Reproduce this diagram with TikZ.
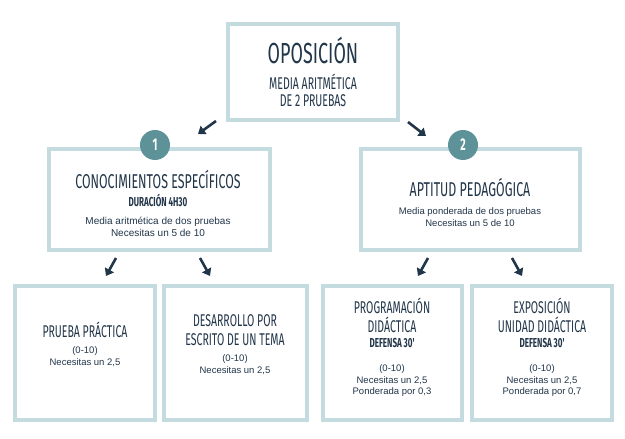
\documentclass[tikz,border=0pt]{standalone}
\usepackage{fontspec}
\setmainfont{Liberation Sans}
\newfontfamily\cond[FakeStretch=0.62]{Fira Sans}
\usetikzlibrary{arrows.meta}
\definecolor{bord}{HTML}{C4DCE0}
\definecolor{ink}{HTML}{22364A}
\definecolor{teal}{HTML}{5E9299}
\begin{document}
\begin{tikzpicture}[x=1pt,y=-1pt,
  box/.style={draw=bord,line width=3.5pt,fill=white},
  num/.style={circle,fill=teal,text=white,minimum size=30pt,inner sep=0pt,font=\cond\bfseries\fontsize{17}{17}\selectfont},
  arr/.style={draw=ink,line width=2.6pt,-{Triangle[length=7pt,width=10pt]}},
  t/.style={text=ink,align=center,inner sep=0pt}]
\useasboundingbox (0,0) rectangle (625,439);
\fill[white] (0,0) rectangle (625,439);
\draw[box] (228,24) rectangle (398,120);
\node[t,font=\cond\fontsize{29}{29}\selectfont] (op) at (313,50) {OPOSICIÓN};
\node[t,font=\cond\fontsize{17}{17}\selectfont] (opm) at (313,90) {MEDIA ARITMÉTICA\\DE 2 PRUEBAS};
\draw[box] (49,149) rectangle (270,250);
\draw[box] (361,149) rectangle (580,250);
\node[num] (n1) at (155,145) {1};
\node[num] (n2) at (463,145) {2};
\node[t,font=\cond\fontsize{20}{20}\selectfont] (ce) at (158,180) {CONOCIMIENTOS ESPECÍFICOS};
\node[t,font=\cond\bfseries\fontsize{13}{13}\selectfont] (du) at (158,200) {DURACIÓN 4H30};
\node[t,font=\fontsize{10}{12}\selectfont] (cm) at (158,227) {Media aritmética de dos pruebas\\Necesitas un 5 de 10};
\node[t,font=\cond\fontsize{20}{20}\selectfont] (ap) at (470,188) {APTITUD PEDAGÓGICA};
\node[t,font=\fontsize{9.5}{12}\selectfont] (am) at (470,217) {Media ponderada de dos pruebas\\Necesitas un 5 de 10};
\coordinate (a1s) at (216,121); \coordinate (a1e) at (198,134);
\coordinate (a2s) at (408,122); \coordinate (a2e) at (426,136);
\draw[arr] (a1s)--(a1e); \draw[arr] (a2s)--(a2e);
\coordinate (b1s) at (116,258); \coordinate (b1e) at (106,276);
\coordinate (b2s) at (200,258); \coordinate (b2e) at (210,276);
\coordinate (b3s) at (428,258); \coordinate (b3e) at (418,276);
\coordinate (b4s) at (512,258); \coordinate (b4e) at (522,276);
\foreach \s/\e in {b1s/b1e,b2s/b2e,b3s/b3e,b4s/b4e} \draw[arr] (\s)--(\e);
\draw[box] (15,286) rectangle (155,420);
\draw[box] (164,286) rectangle (307,420);
\draw[box] (323,286) rectangle (462,420);
\draw[box] (472,286) rectangle (612,420);
\node[t,font=\cond\fontsize{17}{17}\selectfont] (p1) at (85,330) {PRUEBA PRÁCTICA};
\node[t,font=\fontsize{9.5}{12}\selectfont] (p1t) at (85,357) {(0-10)\\Necesitas un 2,5};
\node[t,font=\cond\fontsize{17}{19}\selectfont] (p2) at (235,330) {DESARROLLO POR\\ESCRITO DE UN TEMA};
\node[t,font=\fontsize{9.5}{12}\selectfont] (p2t) at (235,365) {(0-10)\\Necesitas un 2,5};
\node[t,font=\cond\fontsize{17}{19}\selectfont] (p3) at (392,315) {PROGRAMACIÓN\\DIDÁCTICA};
\node[t,font=\cond\bfseries\fontsize{13}{13}\selectfont] (p3d) at (392,343) {DEFENSA 30'};
\node[t,font=\fontsize{9.5}{11.5}\selectfont] (p3t) at (392,381) {(0-10)\\Necesitas un 2,5\\Ponderada por 0,3};
\node[t,font=\cond\fontsize{17}{19}\selectfont] (p4) at (542,315) {EXPOSICIÓN\\UNIDAD DIDÁCTICA};
\node[t,font=\cond\bfseries\fontsize{13}{13}\selectfont] (p4d) at (542,343) {DEFENSA 30'};
\node[t,font=\fontsize{9.5}{11.5}\selectfont] (p4t) at (542,381) {(0-10)\\Necesitas un 2,5\\Ponderada por 0,7};
\end{tikzpicture}
\end{document}
